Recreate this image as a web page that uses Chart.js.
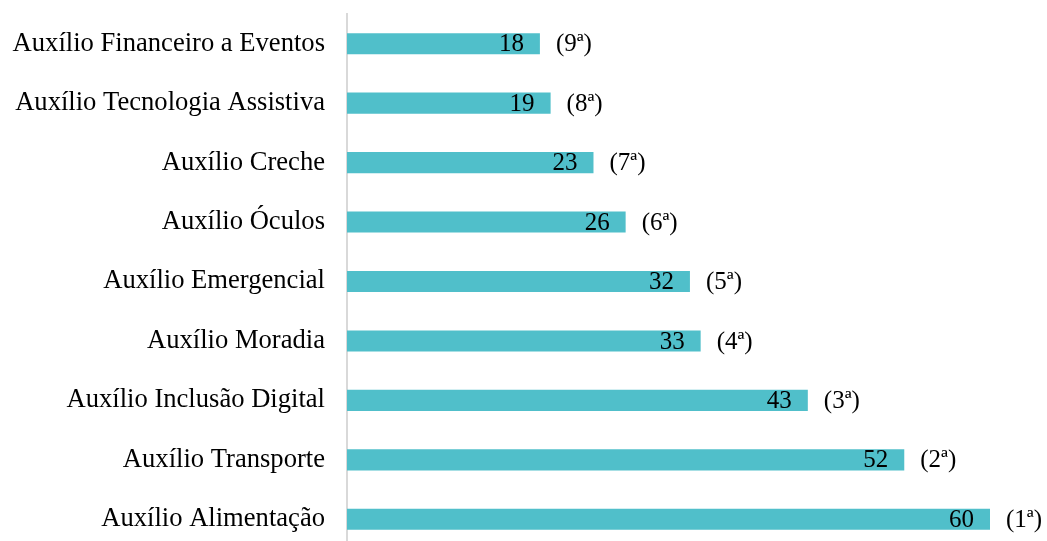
<!DOCTYPE html>
<html>
<head>
<meta charset="utf-8">
<script src="https://cdn.jsdelivr.net/npm/chart.js@4"></script>
<style>
    html, body { margin: 0; padding: 0; background: #fff; overflow: hidden; }
    canvas { display: block; }
</style>
</head>
<body>
<canvas id="auxChart" width="1047" height="550"></canvas>
<script>
// ========================================
// DATA
// ========================================

const categories = [
    'Auxílio Financeiro a Eventos',
    'Auxílio Tecnologia Assistiva',
    'Auxílio Creche',
    'Auxílio Óculos',
    'Auxílio Emergencial',
    'Auxílio Moradia',
    'Auxílio Inclusão Digital',
    'Auxílio Transporte',
    'Auxílio Alimentação'
];
const values = [18, 19, 23, 26, 32, 33, 43, 52, 60];
const ranks = ['9ª', '8ª', '7ª', '6ª', '5ª', '4ª', '3ª', '2ª', '1ª'];

const FONT = '"Liberation Serif", "Times New Roman", serif';

// draws the value inside the bar end and the rank just after it
const barLabels = {
    id: 'barLabels',
    afterDatasetsDraw(chart) {
        const ctx = chart.ctx;
        const meta = chart.getDatasetMeta(0);
        ctx.save();
        ctx.fillStyle = '#000';
        ctx.font = '25px ' + FONT;
        ctx.textBaseline = 'middle';
        meta.data.forEach((bar, i) => {
            ctx.textAlign = 'right';
            ctx.fillText(values[i], bar.x - 16, bar.y + 1);
            ctx.textAlign = 'left';
            ctx.fillText('(' + ranks[i] + ')', bar.x + 16, bar.y + 1);
        });
        ctx.restore();
    }
};

new Chart(document.getElementById('auxChart'), {
    type: 'bar',
    data: {
        labels: categories,
        datasets: [{
            data: values,
            backgroundColor: '#50BFCA',
            categoryPercentage: 1,
            barPercentage: 0.355
        }]
    },
    options: {
        responsive: false,
        indexAxis: 'y',
        animation: false,
        layout: { padding: { top: 14, right: 57, bottom: 1, left: 0 } },
        plugins: { legend: { display: false }, tooltip: { enabled: false } },
        scales: {
            x: { display: false, min: 0, max: 60 },
            y: {
                afterFit: scale => {
                    scale.width = 347;
                    scale.paddingTop = 0;
                    scale.paddingBottom = 0;
                },
                grid: { display: true, color: 'transparent', drawTicks: false },
                border: { display: true, color: '#d9d9d9', width: 2 },
                ticks: { color: '#000', padding: 22, font: { family: FONT, size: 26.6 } }
            }
        }
    },
    plugins: [barLabels]
});
</script>
</body>
</html>
